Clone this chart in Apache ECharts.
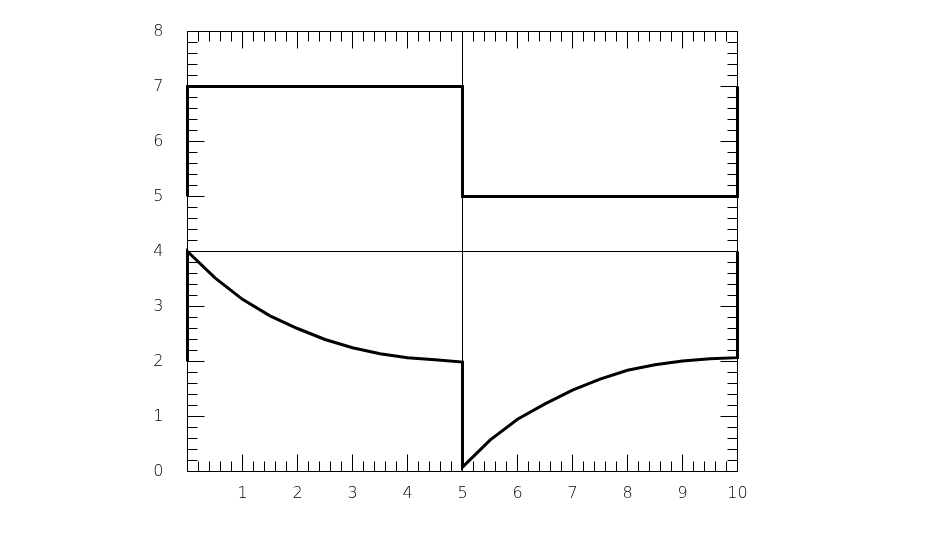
<!DOCTYPE html>
<html>
<head>
<meta charset="utf-8">
<script src="https://cdn.jsdelivr.net/npm/echarts@6/dist/echarts.min.js"></script>
<style>
html,body{margin:0;padding:0;background:#fff;}
#chart{width:927px;height:537px;}
</style>
</head>
<body>
<div id="chart"></div>
<script>
// Upper step series (thick)
var upperX = [0, 0, 5, 5, 10, 10];
var upperY = [5, 7, 7, 5, 5, 7];

// Lower curve series (thick): decay then recovery
var lowerX = [0, 0, 0.5, 1.0, 1.5, 2.0, 2.5, 3.0, 3.5, 4.0, 4.5, 5.0,
              5.0, 5.5, 6.0, 6.5, 7.0, 7.5, 8.0, 8.5, 9.0, 9.5, 10.0, 10.0];
var lowerY = [2, 4.0, 3.52, 3.13, 2.83, 2.60, 2.40, 2.25, 2.14, 2.07, 2.03, 1.99,
              0.08, 0.57, 0.95, 1.23, 1.48, 1.68, 1.84, 1.94, 2.01, 2.05, 2.07, 4];

// Thin reference lines
var refVX = [5, 5];
var refVY = [0, 8];
var refHX = [0, 10];
var refHY = [4, 4];

var xTickLabels = ['', '1', '2', '3', '4', '5', '6', '7', '8', '9', '10'];
var yTickLabels = ['0', '1', '2', '3', '4', '5', '6', '7', '8'];

function zip(a, b) { return a.map(function (v, i) { return [v, b[i]]; }); }

var labelFont = { fontFamily: 'DejaVu Sans', fontWeight: 200, fontSize: 16, color: '#000' };

function xAxisDef(pos, showLabel) {
  return {
    type: 'value', position: pos, min: 0, max: 10, interval: 1,
    axisLine: { show: true, onZero: false, lineStyle: { color: '#000', width: 1 } },
    axisTick: { show: true, inside: true, length: 17, lineStyle: { color: '#000', width: 1 } },
    minorTick: { show: true, splitNumber: 5, length: 10, lineStyle: { color: '#000', width: 1 } },
    splitLine: { show: false },
    axisLabel: Object.assign({
      show: showLabel, margin: 14,
      formatter: function (v) { return xTickLabels[Math.round(v)] || ''; }
    }, labelFont)
  };
}
function yAxisDef(pos, showLabel) {
  return {
    type: 'value', position: pos, min: 0, max: 8, interval: 1,
    axisLine: { show: true, onZero: false, lineStyle: { color: '#000', width: 1 } },
    axisTick: { show: true, inside: true, length: 17, lineStyle: { color: '#000', width: 1 } },
    minorTick: { show: true, splitNumber: 5, length: 10, lineStyle: { color: '#000', width: 1 } },
    splitLine: { show: false },
    axisLabel: Object.assign({
      show: showLabel, margin: 24, padding: [5, 0, 0, 0],
      formatter: function (v) { return yTickLabels[Math.round(v)]; }
    }, labelFont)
  };
}

var chart = echarts.init(document.getElementById('chart'), null, { renderer: 'canvas' });
chart.setOption({
  animation: false,
  backgroundColor: '#fff',
  grid: { left: 187.5, right: 189.5, top: 31.5, bottom: 65.5, containLabel: false },
  xAxis: [xAxisDef('bottom', true), xAxisDef('top', false)],
  yAxis: [yAxisDef('left', true), yAxisDef('right', false)],
  series: [
    { type: 'line', data: zip(refVX, refVY), showSymbol: false, symbol: 'none',
      lineStyle: { color: '#000', width: 1 }, z: 1 },
    { type: 'line', data: zip(refHX, refHY), showSymbol: false, symbol: 'none',
      lineStyle: { color: '#000', width: 1 }, z: 1 },
    { type: 'line', data: zip(upperX, upperY), showSymbol: false, symbol: 'none',
      lineStyle: { color: '#000', width: 3, join: 'miter' }, z: 2 },
    { type: 'line', data: zip(lowerX, lowerY), showSymbol: false, symbol: 'none',
      lineStyle: { color: '#000', width: 3, join: 'miter' }, z: 2 }
  ]
});
</script>
</body>
</html>
